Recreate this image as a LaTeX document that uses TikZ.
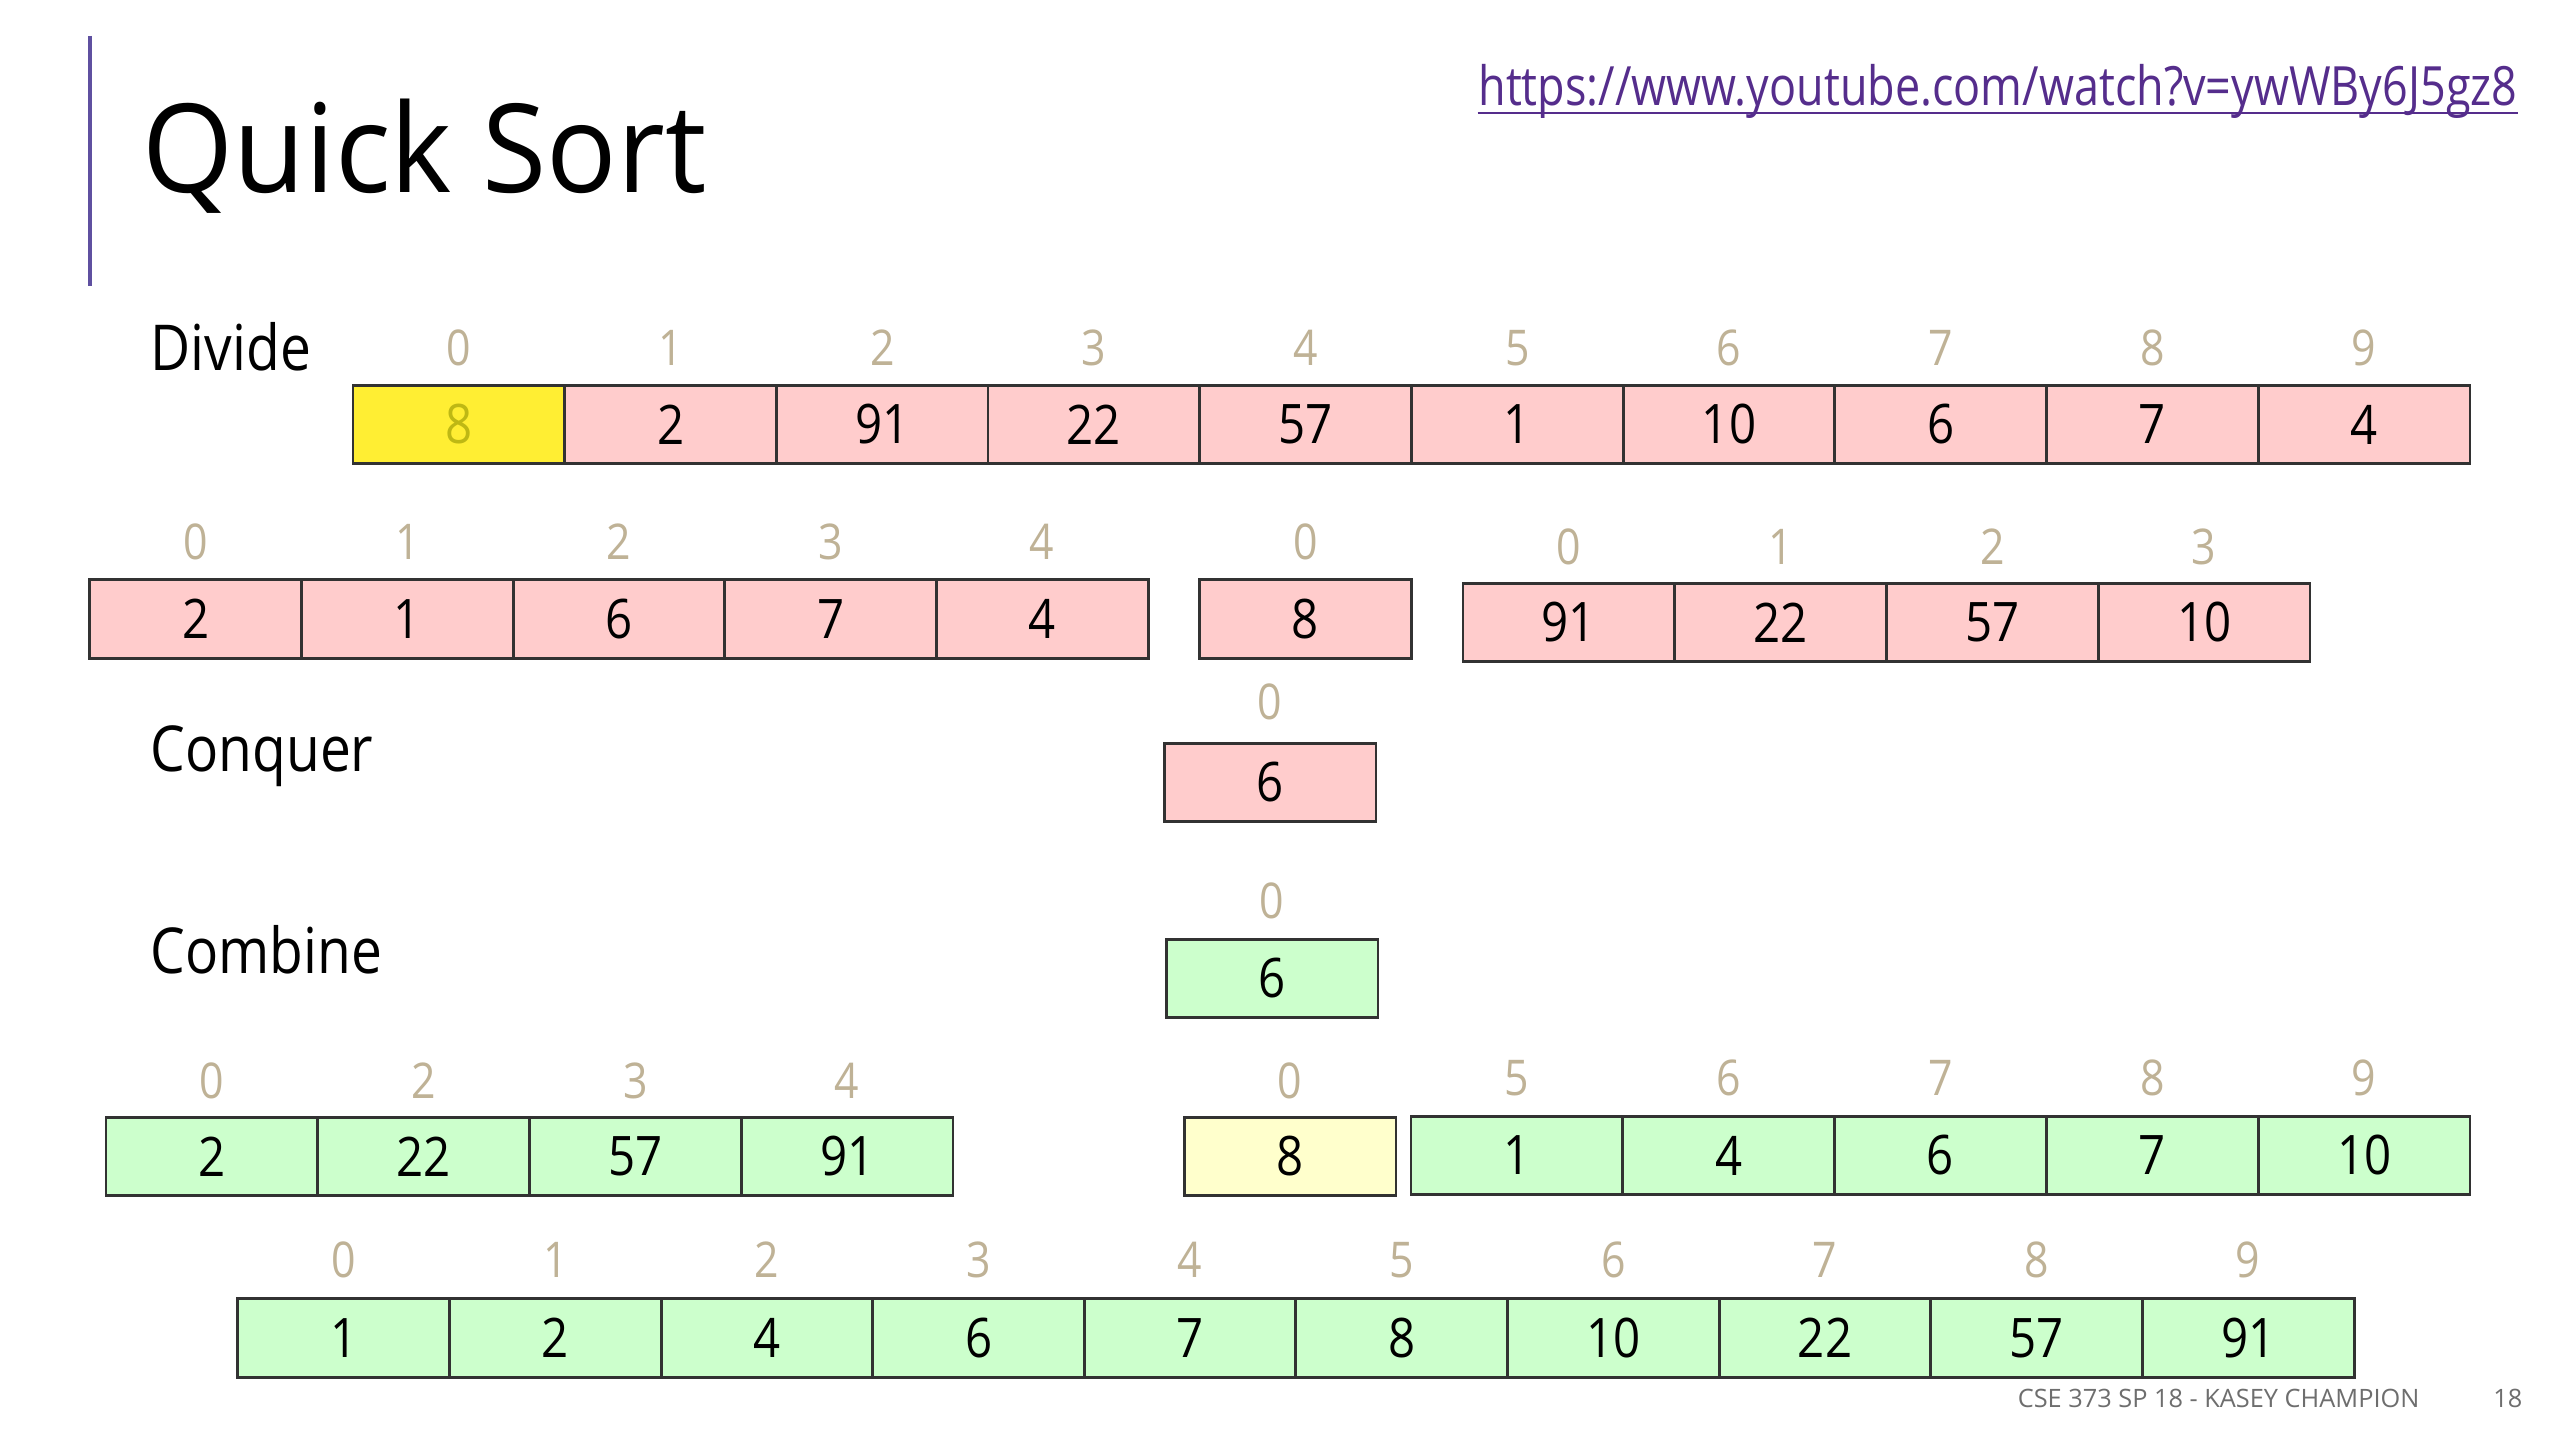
\documentclass[tikz,border=0pt]{standalone}
\usepackage{fontspec}
\setmainfont[FakeStretch=0.87]{Open Sans}
\newfontfamily\titlefont[FakeStretch=0.95]{Open Sans}
\newfontfamily\linkfont[FakeStretch=0.83]{Open Sans}
\newfontfamily\footfont{Open Sans}
\definecolor{cell_pink}{RGB}{255,204,204}
\definecolor{cell_green}{RGB}{204,255,204}
\definecolor{cell_yellow}{RGB}{255,238,51}
\definecolor{cell_cream}{RGB}{255,255,204}
\definecolor{pivot_text}{RGB}{190,184,20}
\definecolor{index_tan}{RGB}{191,178,150}
\definecolor{edge_dark}{RGB}{50,50,50}
\definecolor{bar_purple}{RGB}{95,80,160}
\definecolor{link_purple}{RGB}{85,45,140}
\definecolor{foot_gray}{RGB}{110,110,110}

\begin{document}
\begin{tikzpicture}[x=0.01cm,y=-0.01cm]
    \tikzstyle{cell}=[draw=edge_dark, line width=0.8pt, minimum width=2.117cm, minimum height=0.785cm, inner sep=0pt, text=black, font=\fontsize{15.5}{18}\selectfont]
    \tikzstyle{pinkcell}=[cell, fill=cell_pink]
    \tikzstyle{greencell}=[cell, fill=cell_green]
    \tikzstyle{pivotcell}=[cell, fill=cell_yellow, text=pivot_text]
    \tikzstyle{creamcell}=[cell, fill=cell_cream]
    \tikzstyle{idx}=[inner sep=0pt, text=index_tan, font=\fontsize{14}{16}\selectfont]
    \tikzstyle{step_label}=[anchor=base west, inner sep=0pt, font=\fontsize{18}{21}\selectfont]

    \fill[white] (0,0) rectangle (2560,1440);
    \useasboundingbox (0,0) rectangle (2560,1440);

    % header
    \draw[bar_purple, line width=0.9pt] (90,36) -- (90,286);
    \node[anchor=base west, inner sep=0pt, font=\titlefont\fontsize{35}{40}\selectfont] (title) at (142,193) {Quick Sort};
    \node[anchor=base east, inner sep=0pt, text=link_purple, font=\linkfont\fontsize{15.4}{18}\selectfont] (link) at (2518,106) {https://www.youtube.com/watch?v=ywWBy6J5gz8};
    \draw[link_purple, line width=0.6pt] ([yshift=-2pt]link.base west) -- ([yshift=-2pt]link.base east);

    \node[step_label] (divide)  at (150,371) {Divide};
    \node[step_label] (conquer) at (150,772) {Conquer};
    \node[step_label] (combine) at (150,973) {Combine};

    % divide
    \node[pivotcell] (a0) at (458.85,424.5) {8};
    \node[idx] (ai0) at (458.85,348) {0};
    \foreach \v [count=\i from 1] in {2,91,22,57,1,10,6,7,4} {
      \node[pinkcell] (a\i) at ({458.85+211.7*\i},424.5) {\v};
      \node[idx] (ai\i) at ({458.85+211.7*\i},348) {\i};
    }

    \foreach \v [count=\i from 0] in {2,1,6,7,4} {
      \node[pinkcell] (bl\i) at ({195.8+211.6*\i},619) {\v};
      \node[idx] (bli\i) at ({195.8+211.6*\i},542) {\i};
    }
    \node[pinkcell] (bm) at (1305.5,619) {8};
    \node[idx] (bmi) at (1305.5,542) {0};
    \foreach \v [count=\i from 0] in {91,22,57,10} {
      \node[pinkcell] (br\i) at ({1568.9+211.75*\i},622.5) {\v};
      \node[idx] (bri\i) at ({1568.9+211.75*\i},547) {\i};
    }

    % conquer
    \node[pinkcell] (cq) at (1270,782.5) {6};
    \node[idx] (cqi) at (1270,702) {0};

    % combine
    \node[greencell] (cb) at (1272,978.5) {6};
    \node[idx] (cbi) at (1272,901) {0};

    \foreach \v/\k [count=\i from 0] in {2/0,22/2,57/3,91/4} {
      \node[greencell] (cl\i) at ({211.9+211.75*\i},1156.5) {\v};
      \node[idx] (cli\i) at ({211.9+211.75*\i},1081) {\k};
    }
    \node[creamcell] (cm) at (1290,1156.5) {8};
    \node[idx] (cmi) at (1290,1081) {0};
    \foreach \v/\k [count=\i from 0] in {1/5,4/6,6/7,7/8,10/9} {
      \node[greencell] (cr\i) at ({1516.9+211.8*\i},1155.5) {\v};
      \node[idx] (cri\i) at ({1516.9+211.8*\i},1078) {\k};
    }

    \foreach \v [count=\i from 0] in {1,2,4,6,7,8,10,22,57,91} {
      \node[greencell] (d\i) at ({343.8+211.6*\i},1338) {\v};
      \node[idx] (di\i) at ({343.8+211.6*\i},1260) {\i};
    }

    % footer
    \node[anchor=base east, inner sep=0pt, text=foot_gray, font=\footfont\fontsize{7.2}{9}\selectfont] (foot) at (2420,1407) {CSE 373 SP 18 - KASEY CHAMPION};
    \node[anchor=base east, inner sep=0pt, text=foot_gray, font=\footfont\fontsize{7.2}{9}\selectfont] (page) at (2523,1407) {18};
\end{tikzpicture}
\end{document}
